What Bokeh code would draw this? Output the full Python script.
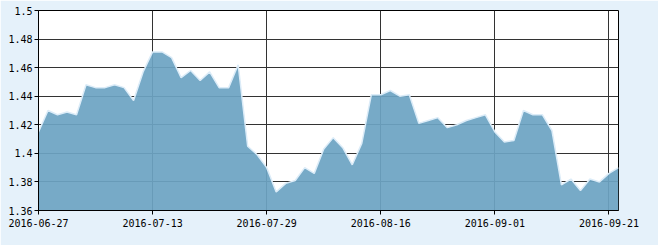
from bokeh.plotting import figure
from bokeh.models import FixedTicker, CustomJSTickFormatter, ColumnDataSource, Range1d
from bokeh.embed import file_html
from bokeh.resources import INLINE

dates = [
    "2016-06-27", "2016-06-28", "2016-06-29", "2016-06-30", "2016-07-01",
    "2016-07-04", "2016-07-05", "2016-07-06", "2016-07-07", "2016-07-08",
    "2016-07-11", "2016-07-12", "2016-07-13", "2016-07-14", "2016-07-15",
    "2016-07-18", "2016-07-19", "2016-07-20", "2016-07-21", "2016-07-22",
    "2016-07-25", "2016-07-26", "2016-07-27", "2016-07-28", "2016-07-29",
    "2016-08-01", "2016-08-02", "2016-08-03", "2016-08-04", "2016-08-05",
    "2016-08-08", "2016-08-09", "2016-08-10", "2016-08-11", "2016-08-12",
    "2016-08-15", "2016-08-16", "2016-08-17", "2016-08-18", "2016-08-19",
    "2016-08-22", "2016-08-23", "2016-08-24", "2016-08-25", "2016-08-26",
    "2016-08-29", "2016-08-30", "2016-08-31", "2016-09-01", "2016-09-02",
    "2016-09-05", "2016-09-06", "2016-09-07", "2016-09-08", "2016-09-09",
    "2016-09-12", "2016-09-13", "2016-09-14", "2016-09-19", "2016-09-20",
    "2016-09-21", "2016-09-22",
]

values = [
    1.415, 1.430, 1.427, 1.429, 1.427, 1.448, 1.446, 1.446, 1.448, 1.446,
    1.437, 1.457, 1.471, 1.471, 1.467, 1.453, 1.458, 1.451, 1.457, 1.446,
    1.446, 1.462, 1.405, 1.399, 1.390, 1.373, 1.379, 1.381, 1.390, 1.386,
    1.403, 1.411, 1.404, 1.392, 1.407, 1.441, 1.441, 1.444, 1.440, 1.441,
    1.421, 1.423, 1.425, 1.418, 1.420, 1.423, 1.425, 1.427, 1.415, 1.408,
    1.409, 1.430, 1.427, 1.427, 1.416, 1.378, 1.382, 1.374, 1.382, 1.380,
    1.386, 1.390,
]

y_ticks = [1.36, 1.38, 1.40, 1.42, 1.44, 1.46, 1.48, 1.50]
x_tick_idx = [0, 12, 24, 36, 48, 60]

idx = list(range(len(dates)))
src = ColumnDataSource(dict(x=idx, y=values, base=[y_ticks[0]] * len(values)))

p = figure(width=658, height=245, output_backend="svg", toolbar_location=None,
           x_range=Range1d(0, len(dates) - 1), y_range=Range1d(y_ticks[0], y_ticks[-1]),
           min_border_left=38, min_border_right=40, min_border_top=10, min_border_bottom=35)

p.border_fill_color = "#E5F1FA"
p.background_fill_color = "white"
p.outline_line_color = "black"
p.outline_line_width = 1

p.varea(x="x", y1="base", y2="y", source=src, fill_color="#6DA4C3", fill_alpha=0.93)
p.line(x="x", y="y", source=src, line_color="#dcecf8", line_width=1.5)

p.xaxis.ticker = FixedTicker(ticks=x_tick_idx)
p.xaxis.major_label_overrides = {i: dates[i] for i in x_tick_idx}
p.yaxis.ticker = FixedTicker(ticks=y_ticks)
p.yaxis.formatter = CustomJSTickFormatter(code="return tick.toFixed(2).replace(/0$/, '');")

for ax in (p.xaxis[0], p.yaxis[0]):
    ax.axis_line_color = "black"
    ax.major_tick_line_color = "black"
    ax.major_tick_out = 4
    ax.major_tick_in = 0
    ax.minor_tick_line_color = None
    ax.major_label_text_font = "DejaVu Sans Mono"
    ax.major_label_text_font_size = "10px"
    ax.major_label_text_color = "black"

p.xaxis.major_label_standoff = 4
p.yaxis.major_label_standoff = 2

p.xgrid.ticker = FixedTicker(ticks=x_tick_idx)
p.ygrid.ticker = FixedTicker(ticks=y_ticks)
p.grid.grid_line_color = "#333333"
p.grid.grid_line_width = 1

open("out.html", "w").write(file_html(p, INLINE))
